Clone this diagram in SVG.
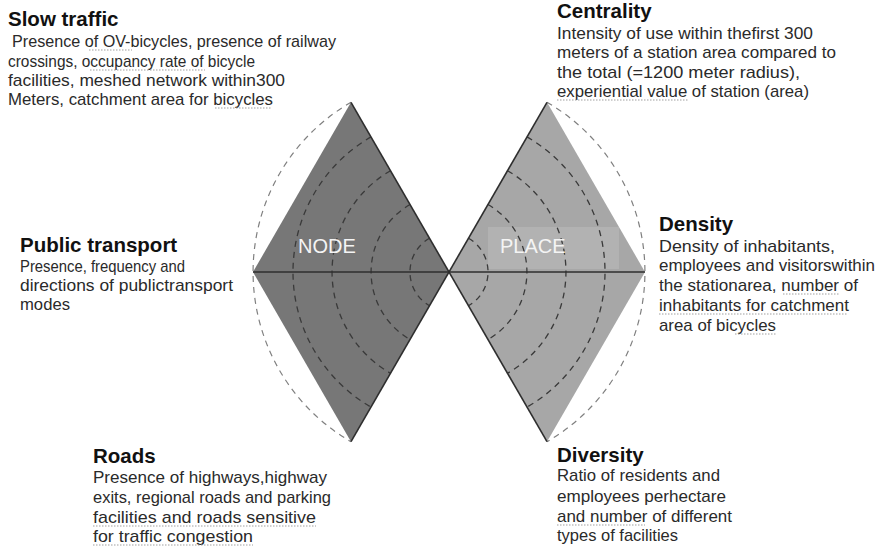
<svg xmlns="http://www.w3.org/2000/svg" width="882" height="553" viewBox="0 0 882 553">
<style>
.h{font-family:"Liberation Sans",Arial,sans-serif;font-weight:bold;font-size:20.5px;fill:#111}
.b{font-family:"Liberation Sans",Arial,sans-serif;font-size:17px;fill:#2a2a2a}
.lbl{font-family:"Liberation Sans",Arial,sans-serif;font-size:20px;fill:#f4f4f4}
.in{fill:none;stroke:#3a3a3a;stroke-width:1.3;stroke-dasharray:6 5}
.out{fill:none;stroke:#808080;stroke-width:1.2;stroke-dasharray:6 5}
.edge{fill:none;stroke:#2e2e2e;stroke-width:1.6}
.sq{fill:none;stroke:#a0a0a0;stroke-width:1.2;stroke-dasharray:1.5 1.5}
</style>
<rect width="882" height="553" fill="#fff"/>
<g id="node">
<polygon points="351,102.3 449,272 351,441.7 253,272" fill="#777777"/>
<path class="in" d="M429.5,238.2 A39,39 0 0 0 429.5,305.8"/>
<path class="in" d="M410,204.5 A78,78 0 0 0 410,339.5"/>
<path class="in" d="M390.5,170.7 A117,117 0 0 0 390.5,373.3"/>
<path class="in" d="M371,136.9 A156,156 0 0 0 371,407.1"/>
<path class="out" d="M351,102.3 A196,196 0 0 0 351,441.7"/>
<text class="lbl" x="298" y="253">NODE</text>
</g>
<g id="place">
<polygon points="547,102.3 645,272 547,441.7 449,272" fill="#a7a7a7"/>
<rect x="488" y="227" width="131" height="42" fill="#b2b2b2"/>
<path class="in" d="M468.5,238.2 A39,39 0 0 1 468.5,305.8"/>
<path class="in" d="M488,204.5 A78,78 0 0 1 488,339.5"/>
<path class="in" d="M507.5,170.7 A117,117 0 0 1 507.5,373.3"/>
<path class="in" d="M527,136.9 A156,156 0 0 1 527,407.1"/>
<path class="out" d="M547,102.3 A196,196 0 0 1 547,441.7"/>
<text class="lbl" x="500" y="253">PLACE</text>
</g>
<g id="connectors">
<line class="edge" x1="351" y1="102.3" x2="547" y2="441.7"/>
<line class="edge" x1="547" y1="102.3" x2="351" y2="441.7"/>
<line class="edge" x1="253" y1="272" x2="645" y2="272" stroke-width="2"/>
</g>
<g id="slow-traffic">
<text class="h" x="8" y="26">Slow traffic</text>
<text class="b" x="12" y="47" textLength="324" lengthAdjust="spacingAndGlyphs">Presence of OV-bicycles, presence of railway</text>
<text class="b" x="8" y="67" textLength="247" lengthAdjust="spacingAndGlyphs">crossings, occupancy rate of bicycle</text>
<text class="b" x="8" y="86" textLength="277" lengthAdjust="spacingAndGlyphs">facilities,  meshed network within300</text>
<text class="b" x="8" y="105" textLength="265" lengthAdjust="spacingAndGlyphs">Meters, catchment area for bicycles</text>
<path class="sq" d="M89,50H132M90,70H205M215,108H272"/>
</g>
<g id="centrality">
<text class="h" x="557" y="18">Centrality</text>
<text class="b" x="557" y="39" textLength="256" lengthAdjust="spacingAndGlyphs">Intensity of use within thefirst  300</text>
<text class="b" x="557" y="58" textLength="279" lengthAdjust="spacingAndGlyphs">meters of a station area  compared to</text>
<text class="b" x="557" y="78" textLength="243" lengthAdjust="spacingAndGlyphs">the total (=1200  meter radius),</text>
<text class="b" x="557" y="97" textLength="252" lengthAdjust="spacingAndGlyphs">experiential value of station (area)</text>
<path class="sq" d="M557,100H688"/>
</g>
<g id="public-transport">
<text class="h" x="20" y="252">Public transport</text>
<text class="b" x="20" y="272" textLength="165" lengthAdjust="spacingAndGlyphs">Presence, frequency and</text>
<text class="b" x="20" y="291" textLength="213" lengthAdjust="spacingAndGlyphs">directions of publictransport</text>
<text class="b" x="20" y="310" textLength="50" lengthAdjust="spacingAndGlyphs">modes</text>
</g>
<g id="density">
<text class="h" x="659" y="231">Density</text>
<text class="b" x="659" y="252" textLength="176" lengthAdjust="spacingAndGlyphs">Density of inhabitants,</text>
<text class="b" x="659" y="271" textLength="216" lengthAdjust="spacingAndGlyphs">employees and visitorswithin</text>
<text class="b" x="659" y="291" textLength="199" lengthAdjust="spacingAndGlyphs">the stationarea, number of</text>
<text class="b" x="659" y="311" textLength="190" lengthAdjust="spacingAndGlyphs">inhabitants for catchment</text>
<text class="b" x="659" y="331" textLength="117" lengthAdjust="spacingAndGlyphs">area of bicycles</text>
<path class="sq" d="M783,294H840M659,314H848M735,334H776"/>
</g>
<g id="roads">
<text class="h" x="93" y="463">Roads</text>
<text class="b" x="93" y="483" textLength="234" lengthAdjust="spacingAndGlyphs">Presence of highways,highway</text>
<text class="b" x="93" y="503" textLength="238" lengthAdjust="spacingAndGlyphs">exits, regional roads and parking</text>
<text class="b" x="93" y="523" textLength="223" lengthAdjust="spacingAndGlyphs">facilities and roads sensitive</text>
<text class="b" x="93" y="542" textLength="160" lengthAdjust="spacingAndGlyphs">for traffic congestion</text>
<path class="sq" d="M93,526H316M93,545H253"/>
</g>
<g id="diversity">
<text class="h" x="557" y="462">Diversity</text>
<text class="b" x="557" y="481" textLength="163" lengthAdjust="spacingAndGlyphs">Ratio of residents and</text>
<text class="b" x="557" y="502" textLength="169" lengthAdjust="spacingAndGlyphs">employees perhectare</text>
<text class="b" x="557" y="522" textLength="175" lengthAdjust="spacingAndGlyphs">and number of different</text>
<text class="b" x="557" y="541" textLength="121" lengthAdjust="spacingAndGlyphs">types of facilities</text>
<path class="sq" d="M557,525H645"/>
</g>
</svg>
